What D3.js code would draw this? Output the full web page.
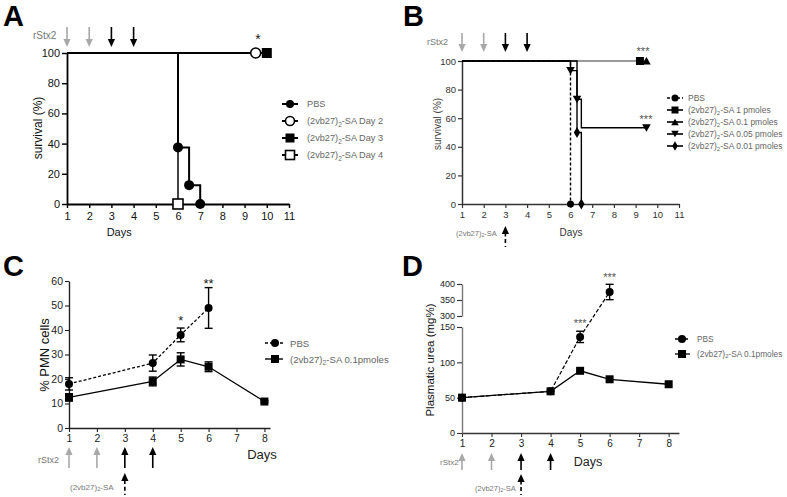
<!DOCTYPE html>
<html><head><meta charset="utf-8">
<script src="https://cdn.jsdelivr.net/npm/d3@7"></script>
<style>body{margin:0;background:#fff} svg{display:block;font-family:"Liberation Sans",Arial,sans-serif}</style>
</head><body><svg id="c" width="787" height="497"></svg>
<script>
// ---------------- DATA ----------------
const dayTicksAB = [1,2,3,4,5,6,7,8,9,10,11];
const survTicks = [0,20,40,60,80,100];
const dayTicksCD = [1,2,3,4,5,6,7,8];
const pmnTicks = [0,10,20,30,40,50,60];
const ureaTicksLow = [0,50,100,150];
const ureaTicksHigh = [300,350,400];
const rStxDays = [1,2,3,4];
const treatDay = 3;

// Panel A (survival, step)
const legendA = ["PBS","Day 2","Day 3","Day 4"];
const aPBS_days = [1,6,6.5,7],   aPBS_surv = [100,37.5,12.5,0];
const aD2_days  = [1,9.5],       aD2_surv  = [100,100];
const aD3_days  = [1,10],        aD3_surv  = [100,100];
const aD4_days  = [1,6],         aD4_surv  = [100,0];

// Panel B (survival, step)
const legendB = ["PBS","1 pmoles","0.1 pmoles","0.05 pmoles","0.01 pmoles"];
const bPBS_days  = [1,6],                bPBS_surv  = [100,0];
const b1_days    = [1,9.2],              b1_surv    = [100,100];
const b01_days   = [1,9.5],              b01_surv   = [100,100];
const b005_days  = [1,6,6.3,6.5,9.5],    b005_surv  = [100,93.3,73.3,53.3,53.3];
const b001_days  = [1,6.3,6.5],          b001_surv  = [100,50,0];

// Panel C (% PMN cells, mean ± err)
const legendC = ["PBS","0.1pmoles"];
const cPBS_days = [1,4,5,6],    cPBS = [18,26.5,38,49],        cPBS_err = [2.5,3.3,2.8,8.3];
const cSA_days  = [1,4,5,6,8],  cSA  = [12.5,19,28,25,10.8],   cSA_err  = [1.5,1.8,2.7,2,0.4];

// Panel D (plasmatic urea, mean ± err)
const dPBS_days = [1,4,5,6],    dPBS = [50,59,136,375],        dPBS_err = [0,0,8,24];
const dSA_days  = [1,4,5,6,8],  dSA  = [50,59,88,76,69],       dSA_err  = [0,0,1.5,1.5,1.5];

// ---------------- HELPERS ----------------
const svg = d3.select("#c");
const zip = (xs, ys) => xs.map((x,i)=>[x, ys[i]]);
function sym(type, size){ return d3.symbol().type(type).size(size)(); }

function marker(g, kind, x, y, s, color){
  color = color || "#000";
  let el;
  if (kind==="circle" || kind==="ocircle"){
    el = g.append("circle").attr("cx",x).attr("cy",y).attr("r",s*0.5);
  } else if (kind==="square" || kind==="osquare"){
    el = g.append("rect").attr("x",x-s/2).attr("y",y-s/2).attr("width",s).attr("height",s);
  } else if (kind==="tri"){
    el = g.append("path").attr("d",sym(d3.symbolTriangle,s*s*0.5)).attr("transform",`translate(${x},${y+1})`);
  } else if (kind==="itri"){
    el = g.append("path").attr("d",sym(d3.symbolTriangle,s*s*0.5)).attr("transform",`translate(${x},${y-1}) rotate(180)`);
  } else if (kind==="diamond"){
    el = g.append("path").attr("d",sym(d3.symbolDiamond,s*s*0.55)).attr("transform",`translate(${x},${y})`);
  }
  if (kind[0]==="o") el.attr("fill","#fff").attr("stroke",color).attr("stroke-width",1.6);
  else el.attr("fill",color);
  return el;
}

function styleAxis(ax, color, width, fs, tcolor){
  ax.selectAll("path.domain").attr("stroke",color).attr("stroke-width",width);
  ax.selectAll(".tick line").attr("stroke",color).attr("stroke-width",width*0.8);
  ax.selectAll(".tick text").attr("font-size",fs).attr("fill",tcolor).attr("font-family","Liberation Sans, Arial, sans-serif");
}

function arrow(g, x, yFrom, yTip, color, dashedTail){
  const dir = yTip > yFrom ? 1 : -1;
  const hl = 8, hw = 3.6;
  if (dashedTail){
    g.append("line").attr("x1",x).attr("x2",x).attr("y1",yTip - dir*hl).attr("y2",yTip+(yFrom-yTip)*0.5)
      .attr("stroke",color).attr("stroke-width",1.6);
    g.append("line").attr("x1",x).attr("x2",x).attr("y1",yTip+(yFrom-yTip)*0.62).attr("y2",yFrom)
      .attr("stroke",color).attr("stroke-width",1.6).attr("stroke-dasharray","4,3");
  } else {
    g.append("line").attr("x1",x).attr("x2",x).attr("y1",yFrom).attr("y2",yTip - dir*hl+dir*1)
      .attr("stroke",color).attr("stroke-width",1.6);
  }
  g.append("path").attr("d",`M${x},${yTip} L${x-hw},${yTip-dir*hl} L${x+hw},${yTip-dir*hl} Z`).attr("fill",color);
}

function saText(g, x, y, rest, fs, color, anchor){
  const t = g.append("text").attr("x",x).attr("y",y).attr("font-size",fs).attr("fill",color)
    .attr("text-anchor",anchor||"start").attr("dominant-baseline","central");
  t.append("tspan").text("(2vb27)");
  t.append("tspan").text("2").attr("font-size",fs*0.7).attr("dy",fs*0.3);
  t.append("tspan").text("-SA" + (rest? " "+rest : "")).attr("dy",-fs*0.3);
  return t;
}

function panelLetter(x, y, t){
  svg.append("text").attr("x",x).attr("y",y).text(t).attr("font-size",29).attr("font-weight","bold")
    .attr("font-family","Liberation Sans, Arial, sans-serif").attr("fill","#000");
}

function ylabel(x, y, t, fs, color){
  svg.append("text").attr("transform",`translate(${x},${y}) rotate(-90)`).attr("text-anchor","middle")
    .attr("dominant-baseline","central").attr("font-size",fs).attr("fill",color).text(t);
}

const GRAY = "#a8a8a8";

// ---------------- PANEL A ----------------
{
  const g = svg.append("g");
  const x = d3.scaleLinear().domain([1,11]).range([67,289]);
  const y = d3.scaleLinear().domain([0,100]).range([204,53]);
  const ax = g.append("g").attr("transform","translate(0,204)")
    .call(d3.axisBottom(x).tickValues(dayTicksAB).tickSize(4).tickSizeOuter(0).tickPadding(4));
  styleAxis(ax,"#000",1.8,11,"#111");
  const ay = g.append("g").attr("transform","translate(67,0)")
    .call(d3.axisLeft(y).tickValues(survTicks).tickSize(5).tickSizeOuter(0).tickPadding(2));
  styleAxis(ay,"#000",1.8,11,"#111");

  const line = d3.line().x(d=>x(d[0])).y(d=>y(d[1])).curve(d3.curveStepAfter);
  const series = [
    {d:zip(aD2_days,aD2_surv), m:"ocircle", idx:[1], col:"#000"},
    {d:zip(aD3_days,aD3_surv), m:"square", idx:[1], col:"#000"},
    {d:zip(aD4_days,aD4_surv), m:"osquare", idx:[1], col:"#444"},
    {d:zip(aPBS_days,aPBS_surv), m:"circle", idx:[1,2,3], col:"#000"}
  ];
  series.forEach(s=>{
    g.append("path").attr("d",line(s.d)).attr("fill","none").attr("stroke",s.col).attr("stroke-width",2);
  });
  series.forEach(s=>{
    s.idx.forEach(i=>marker(g,s.m,x(s.d[i][0]),y(s.d[i][1]),10,"#000"));
  });
  g.append("text").attr("x",x(9.6)).attr("y",44).attr("text-anchor","middle").attr("font-size",14).attr("fill","#222").text("*");

  rStxDays.forEach((d,i)=>arrow(g,x(d),27,47,i<2?GRAY:"#000",false));
  g.append("text").attr("x",33).attr("y",35).attr("font-size",10).attr("fill","#777").attr("dominant-baseline","central").text("rStx2");
  g.append("text").attr("x",x(3.35)).attr("y",236).attr("text-anchor","middle").attr("font-size",11).attr("fill","#111").text("Days");
  ylabel(38,128,"survival (%)",12,"#111");

  const rows=[104,121,138,155], ms=["circle","ocircle","square","osquare"];
  rows.forEach((ry,i)=>{
    g.append("line").attr("x1",282).attr("x2",298).attr("y1",ry).attr("y2",ry).attr("stroke","#000").attr("stroke-width",2);
    marker(g,ms[i],290,ry,i===0?8:9,"#000");
    if(i===0) g.append("text").attr("x",307).attr("y",ry).attr("dominant-baseline","central").attr("font-size",9.2).attr("fill","#666").text(legendA[i]);
    else saText(g,307,ry,legendA[i],9.2,"#666");
  });
  panelLetter(3,26,"A");
}

// ---------------- PANEL B ----------------
{
  const g = svg.append("g");
  const x = d3.scaleLinear().domain([1,11]).range([462,679]);
  const y = d3.scaleLinear().domain([0,100]).range([204,61]);
  const ax = g.append("g").attr("transform","translate(0,204)")
    .call(d3.axisBottom(x).tickValues(dayTicksAB).tickSize(4).tickSizeOuter(0).tickPadding(3));
  styleAxis(ax,"#333",1.5,9.5,"#333");
  const ay = g.append("g").attr("transform","translate(462,0)")
    .call(d3.axisLeft(y).tickValues(survTicks).tickSize(4).tickSizeOuter(0).tickPadding(2));
  styleAxis(ay,"#333",1.5,9.5,"#333");

  const line = d3.line().x(d=>x(d[0])).y(d=>y(d[1])).curve(d3.curveStepAfter);
  g.append("path").attr("d",line(zip(b1_days,b1_surv))).attr("fill","none").attr("stroke","#999").attr("stroke-width",2);
  g.append("path").attr("d",line(zip(b01_days,b01_surv))).attr("fill","none").attr("stroke","#999").attr("stroke-width",2);
  g.append("path").attr("d",line(zip(b005_days,b005_surv))).attr("fill","none").attr("stroke","#000").attr("stroke-width",1.4);
  g.append("path").attr("d",line(zip(b001_days,b001_surv))).attr("fill","none").attr("stroke","#000").attr("stroke-width",1.4);
  g.append("path").attr("d",line(zip(bPBS_days,bPBS_surv))).attr("fill","none").attr("stroke","#000").attr("stroke-width",1.4).attr("stroke-dasharray","3,2");

  marker(g,"circle",x(6),y(0),7);
  marker(g,"square",x(9.2),y(100),8);
  marker(g,"tri",x(9.5),y(100),8);
  [1,2,4].forEach(i=>marker(g,"itri",x(b005_days[i]),y(b005_surv[i]),8));
  [1,2].forEach(i=>marker(g,"diamond",x(b001_days[i]),y(b001_surv[i]),8));

  g.append("text").attr("x",643).attr("y",55).attr("text-anchor","middle").attr("font-size",11).attr("fill","#555").text("***");
  g.append("text").attr("x",646).attr("y",123).attr("text-anchor","middle").attr("font-size",11).attr("fill","#555").text("***");

  rStxDays.forEach((d,i)=>arrow(g,x(d),33,52,i<2?GRAY:"#000",false));
  g.append("text").attr("x",427).attr("y",42).attr("font-size",9).attr("fill","#777").attr("dominant-baseline","central").text("rStx2");
  arrow(g,x(treatDay),247,226,"#000",true);
  saText(g,456,233,"",7.5,"#777");
  g.append("text").attr("x",571).attr("y",236).attr("text-anchor","middle").attr("font-size",10).attr("fill","#333").text("Days");
  ylabel(437,124,"survival (%)",10,"#444");

  const rows=[98,110,122,134,146], ms=["circle","square","tri","itri","diamond"];
  rows.forEach((ry,i)=>{
    g.append("line").attr("x1",667).attr("x2",683).attr("y1",ry).attr("y2",ry).attr("stroke","#000").attr("stroke-width",1.6)
      .attr("stroke-dasharray",i===0?"3,2":null);
    marker(g,ms[i],675,ry,7);
    if(i===0) g.append("text").attr("x",688).attr("y",ry).attr("dominant-baseline","central").attr("font-size",8.5).attr("fill","#666").text(legendB[i]);
    else saText(g,688,ry,legendB[i],8.5,"#666");
  });
  panelLetter(403,26,"B");
}

// ---------------- PANEL C ----------------
{
  const g = svg.append("g");
  const x = d3.scaleLinear().domain([1,8.2]).range([69,270]);
  const y = d3.scaleLinear().domain([0,60]).range([428,281]);
  const ax = g.append("g").attr("transform","translate(0,428)")
    .call(d3.axisBottom(x).tickValues(dayTicksCD).tickSize(4).tickSizeOuter(0).tickPadding(3));
  styleAxis(ax,"#222",1.4,10.5,"#222");
  const ay = g.append("g").attr("transform","translate(69,0)")
    .call(d3.axisLeft(y).tickValues(pmnTicks).tickSize(4).tickSizeOuter(0).tickPadding(2));
  styleAxis(ay,"#222",1.4,10.5,"#222");

  const line = d3.line().x(d=>x(d[0])).y(d=>y(d[1]));
  g.append("path").attr("d",line(zip(cSA_days,cSA))).attr("fill","none").attr("stroke","#000").attr("stroke-width",1.3);
  g.append("path").attr("d",line(zip(cPBS_days,cPBS))).attr("fill","none").attr("stroke","#000").attr("stroke-width",1.3).attr("stroke-dasharray","3,2");
  const eb = (days, vals, errs)=>days.forEach((d,i)=>{
    const cx=x(d), y1=y(vals[i]+errs[i]), y2=y(vals[i]-errs[i]);
    g.append("line").attr("x1",cx).attr("x2",cx).attr("y1",y1).attr("y2",y2).attr("stroke","#000").attr("stroke-width",1.4);
    [y1,y2].forEach(yy=>g.append("line").attr("x1",cx-4).attr("x2",cx+4).attr("y1",yy).attr("y2",yy).attr("stroke","#000").attr("stroke-width",1.4));
  });
  eb(cSA_days,cSA,cSA_err); eb(cPBS_days,cPBS,cPBS_err);
  cSA_days.forEach((d,i)=>marker(g,"square",x(d),y(cSA[i]),8));
  cPBS_days.forEach((d,i)=>marker(g,"circle",x(d),y(cPBS[i]),8));

  g.append("text").attr("x",x(5)).attr("y",325).attr("text-anchor","middle").attr("font-size",13).attr("fill","#222").text("*");
  g.append("text").attr("x",x(6)).attr("y",288).attr("text-anchor","middle").attr("font-size",13).attr("fill","#222").text("**");

  rStxDays.forEach((d,i)=>arrow(g,x(d),468,447,i<2?GRAY:"#000",false));
  arrow(g,x(treatDay),495,473,"#000",true);
  g.append("text").attr("x",38).attr("y",460).attr("font-size",9).attr("fill","#777").attr("dominant-baseline","central").text("rStx2");
  saText(g,70,487,"",8,"#777");
  g.append("text").attr("x",262).attr("y",459).attr("text-anchor","middle").attr("font-size",13).attr("fill","#222").text("Days");
  ylabel(44,355,"% PMN cells",13,"#111");

  const rows=[343,359];
  rows.forEach((ry,i)=>{
    g.append("line").attr("x1",265).attr("x2",283).attr("y1",ry).attr("y2",ry).attr("stroke","#000").attr("stroke-width",1.4)
      .attr("stroke-dasharray",i===0?"3,2":null);
    marker(g,i===0?"circle":"square",275,ry,8);
    if(i===0) g.append("text").attr("x",290).attr("y",ry).attr("dominant-baseline","central").attr("font-size",9.6).attr("fill","#666").text(legendC[i]);
    else saText(g,290,ry,legendC[i],9.6,"#666");
  });
  panelLetter(3,276,"C");
}

// ---------------- PANEL D ----------------
{
  const g = svg.append("g");
  const x = d3.scaleLinear().domain([1,8.35]).range([462,679]);
  const yLo = d3.scaleLinear().domain([0,150]).range([433,327]);
  const yHi = d3.scaleLinear().domain([300,400]).range([316,284]);
  const y = v => v<=150 ? yLo(v) : yHi(v);
  const ax = g.append("g").attr("transform","translate(0,433)")
    .call(d3.axisBottom(x).tickValues(dayTicksCD).tickSize(4).tickSizeOuter(0).tickPadding(3));
  styleAxis(ax,"#333",1.4,10,"#222");
  const ay1 = g.append("g").attr("transform","translate(462,0)")
    .call(d3.axisLeft(yLo).tickValues(ureaTicksLow).tickSize(5).tickSizeOuter(0).tickPadding(2));
  styleAxis(ay1,"#777",1.4,9,"#222");
  const ay2 = g.append("g").attr("transform","translate(462,0)")
    .call(d3.axisLeft(yHi).tickValues(ureaTicksHigh).tickSize(5).tickSizeOuter(0).tickPadding(2));
  styleAxis(ay2,"#777",1.4,9,"#222");
  ay1.selectAll(".tick line").attr("stroke","#333");
  ay2.selectAll(".tick line").attr("stroke","#333");

  const line = d3.line().x(d=>x(d[0])).y(d=>y(d[1]));
  g.append("path").attr("d",line(zip(dPBS_days,dPBS))).attr("fill","none").attr("stroke","#000").attr("stroke-width",1.2).attr("stroke-dasharray","4,2");
  g.append("path").attr("d",line(zip(dSA_days,dSA))).attr("fill","none").attr("stroke","#000").attr("stroke-width",1.3);
  dPBS_days.forEach((d,i)=>{
    if(!dPBS_err[i]) return;
    const cx=x(d), y1=y(dPBS[i]+dPBS_err[i]), y2=y(dPBS[i]-dPBS_err[i]);
    g.append("line").attr("x1",cx).attr("x2",cx).attr("y1",y1).attr("y2",y2).attr("stroke","#000").attr("stroke-width",1.4);
    [y1,y2].forEach(yy=>g.append("line").attr("x1",cx-4).attr("x2",cx+4).attr("y1",yy).attr("y2",yy).attr("stroke","#000").attr("stroke-width",1.4));
  });
  dSA_days.forEach((d,i)=>marker(g,"square",x(d),y(dSA[i]),8));
  dPBS_days.forEach((d,i)=>marker(g,"circle",x(d),y(dPBS[i]),8));

  g.append("text").attr("x",x(5)).attr("y",327).attr("text-anchor","middle").attr("font-size",11).attr("fill","#555").text("***");
  g.append("text").attr("x",x(6)).attr("y",281).attr("text-anchor","middle").attr("font-size",11).attr("fill","#555").text("***");

  rStxDays.forEach((d,i)=>arrow(g,x(d),470,453,i<2?GRAY:"#000",false));
  arrow(g,x(treatDay),495,474,"#000",true);
  g.append("text").attr("x",440).attr("y",462).attr("font-size",8).attr("fill","#777").attr("dominant-baseline","central").text("rStx2");
  saText(g,475,488,"",7.5,"#777");
  g.append("text").attr("x",588).attr("y",466).attr("text-anchor","middle").attr("font-size",12.5).attr("fill","#222").text("Days");
  ylabel(430,360,"Plasmatic urea (mg%)",11.5,"#111");

  const rows=[339,354];
  rows.forEach((ry,i)=>{
    g.append("line").attr("x1",675).attr("x2",690).attr("y1",ry).attr("y2",ry).attr("stroke","#000").attr("stroke-width",1.3)
      .attr("stroke-dasharray",i===0?"3,2":null);
    marker(g,i===0?"circle":"square",682,ry,8);
    if(i===0) g.append("text").attr("x",697).attr("y",ry).attr("dominant-baseline","central").attr("font-size",8.3).attr("fill","#666").text(legendC[i]);
    else saText(g,697,ry,legendC[i],8.3,"#666");
  });
  panelLetter(402,276,"D");
}
</script></body></html>
